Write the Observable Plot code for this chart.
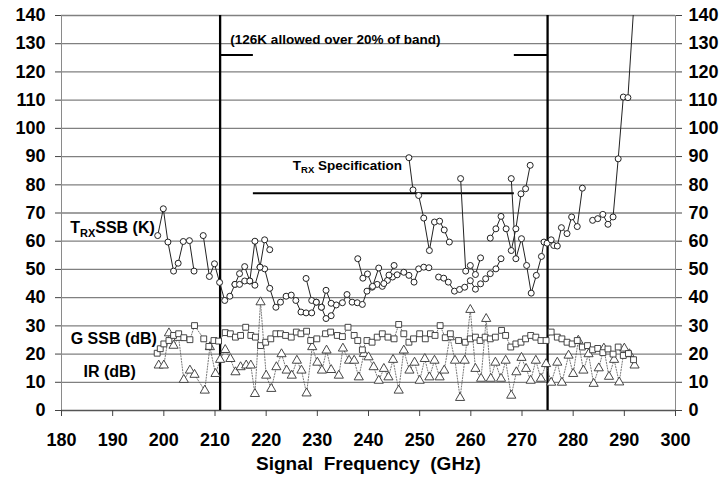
<!DOCTYPE html>
<html>
<head>
<meta charset="utf-8">
<script src="https://cdn.jsdelivr.net/npm/d3@7"></script>
<script src="https://cdn.jsdelivr.net/npm/@observablehq/plot@0.6"></script>
<style>
  html, body { margin: 0; padding: 0; background: #fff; }
  #chart svg { display: block; }
</style>
</head>
<body>
<div id="chart"></div>
<script>
// ---------------- data ----------------
const xTicks = [180, 190, 200, 210, 220, 230, 240, 250, 260, 270, 280, 290, 300];
const yTicks = [0, 10, 20, 30, 40, 50, 60, 70, 80, 90, 100, 110, 120, 130, 140];

const bandEdges = [211, 275];
const specLevel = 77;
const specRange = [217.5, 268.5];
const allowedLevel = 126;
const allowedStarts = [211, 268.5];
const allowedEnds = [217.5, 275];

// Receiver noise temperature T_RX SSB (K), one array per LO sweep: [GHz, K]
const trxSweep1 = [[198.8,62],[199.9,71.5],[200.8,59.7],[201.9,49.4],[202.8,52.2],[203.8,59.9],[205,60.2],[205.9,49.4]];
const trxSweep2 = [[207.7,62],[208.9,47.5],[209.9,52],[210.9,45.4],[211.9,39],[212.9,40.5],[213.9,44.7],[214.8,48.5],[215.8,51],[216.8,45.9],[217.8,44.4],[218.8,50.8],[219.7,50.2],[220.7,43.3],[221.9,36.6],[222.8,38.4],[223.9,40.5],[224.9,40.9],[225.8,39],[226.8,34.9],[227.8,34.6],[228.9,34.6],[229.8,38.4],[230.8,36.6],[231.7,32.6],[232.7,33.6],[233.7,37.4],[234.9,38.2],[235.8,41.1],[236.8,38.4],[237.8,38.2],[238.8,37.6],[239.7,42.3],[240.7,43.7],[241.7,44.7],[242.7,44],[243.7,46.1],[244.7,47.3],[245.6,48.1],[246.9,49],[247.9,47.9],[248.9,45.5],[249.8,50.2],[250.8,50.8],[251.8,50.6]];
const trxSweep3 = [[213.9,44.7],[214.8,44.7],[215.8,45.9],[216.8,45.9],[217.8,60],[218.8,50.8],[219.7,60.5],[220.7,57]];
const trxSweep4 = [[227.8,46.8],[228.9,39],[229.8,38.4],[230.8,36.6],[231.7,42.6],[232.7,38]];
const trxSweep5 = [[237.9,53.8],[238.9,46.9],[239.8,48.4],[240.8,44],[242,50.5],[243,45],[244,48],[245,51.4]];
const trxSweep6 = [[247.9,89.6],[248.7,78.2],[249.8,76.2],[250.8,68.2],[251.9,56.7],[252.9,66.8],[253.9,67.1],[254.8,64],[255.8,59.7]];
const trxSweep7 = [[253.7,47.3],[254.7,46.9],[255.6,45.5],[256.8,42.3],[257.8,42.9],[258.8,43.7],[259.9,46],[260.9,43],[261.9,44.9],[262.9,46.7],[263.8,48.5],[264.9,50.2],[265.9,53.8]];
const trxSweep8 = [[258,82.2],[259,49.4],[259.9,51.4],[260.9,48.2],[261.9,54.1]];
const trxSweep9 = [[263.8,61.1],[264.9,64.4],[265.9,68.8],[266.9,64.4],[267.9,56.7],[268.8,64.4],[269.8,76.8],[270.7,78.6],[271.6,86.9]];
const trxSweep10 = [[267.9,82.2],[268.8,53.8],[269.9,60.9],[270.9,51.4],[271.8,41.6],[272.8,47.9],[273.8,54.6],[274.3,59.7],[274.9,59.3],[275.7,60.5],[276.2,58.5],[276.9,58.3],[277.7,64.8],[278.8,62.7],[279.7,68.6],[280.8,65.2],[281.8,78.8]];
const trxSweep11 = [[283.8,67.4],[284.8,68],[285.8,69.5],[286.8,66],[287.8,68.6],[288.8,89.2],[289.8,111.1],[290.7,110.9],[291.8,142]];

// Gain G SSB (dB)
const gFreq = [198.7,199.3,200,201,201.9,202.9,203.9,205.1,206,207.8,208.8,209.8,210.7,212,213,214,215,216,217,217.9,218.9,219.9,220.9,221.9,222.8,223.8,224.9,225.9,226.8,227.9,228.7,229.9,231.6,232.6,233.9,234.9,236,237.2,237.9,238.8,239.7,240.7,241.7,242.7,243.8,245,245.9,246.9,247.9,248.8,250,251.1,252.1,253,254,255,256,257.6,258.9,259.9,260.9,261.8,262.8,263.8,264.8,266,266.8,267.8,268.8,269.8,270.7,271.7,272.7,273.7,274.7,275.7,276.9,277.8,278.8,279.8,280.8,281.8,282.8,283.8,284.8,285.8,286.8,287.8,288.8,289.8,290.8,291.8];
const gVal  = [20.3,21.9,23.6,24.8,26.6,27.2,25.8,25.1,30.1,25.4,22.7,24.8,24.6,27.6,27.2,26,26.6,29.5,26.6,26,23,24.2,25.4,27.2,27.2,26.6,26,27.8,27.2,28.1,24.8,25.4,27.2,27.8,26.6,26.2,29.5,26.6,24.8,21.5,24.8,24.2,26,27.2,26,25.4,30.5,27.2,24.2,25.4,27.2,25.4,27.2,26.6,30.1,25.8,27.2,24.8,24.2,25.4,26,24.8,26,25.4,26,28.4,26.6,22.5,23.6,24.2,25.4,26.6,26,24.8,24.8,27.8,26,25.4,24.2,23.6,24.8,22.5,23,21.5,22,20.5,21.8,20,22.5,19.5,20.2,18];

// Image rejection IR (dB)
const irFreq = [199,200,201,201.9,202.9,203.9,205.1,206,208,209,210.1,211,212,213,214,215,216.1,217,217.8,218.9,220,221,222,223,224,225,226,226.9,227.9,229,230,230.9,231.8,232.7,234.2,235,236.2,237.2,238.1,239.1,240,241,242,243,243.9,244.8,245.9,246.9,248,249,250,251,251.9,252.9,253.9,254.8,255.9,256.9,257.9,258.8,259.9,260.9,262,263,263.9,264.8,265.9,266.8,267.9,268.9,269.9,270.8,271.7,272.7,273.7,274.7,275.7,276.9,277.8,279.1,280,281,282,283,284,285,286,287,288,289,290,291,292];
const irVal  = [16,16,27.4,23,25.8,10.9,14.2,12.7,7.1,22.5,13,18,21.5,18.3,13.6,15.4,16,16,5.9,38.4,12.4,7.7,15.4,20,14.2,12.4,17.7,14.2,6.1,22.5,17,14.2,21.3,14.4,12.4,22,17.7,17.7,11.8,20.1,18.9,15.4,10.6,14.8,11.8,18,7.1,21.3,14.2,17,10.6,18.3,11.8,17.7,11.8,14.2,26,17.7,4.5,17.7,35.7,14.8,11.3,32.5,11.3,17,11.3,17.7,5.3,13.6,18.7,14.8,10.6,17.7,11.3,16.5,9.9,17,9.9,19.5,13,24.8,14.2,20,9.5,15,22,12,18,10,22,20,16];

// ---------------- build tables ----------------
const trxSweeps = [trxSweep1, trxSweep2, trxSweep3, trxSweep4, trxSweep5, trxSweep6, trxSweep7, trxSweep8, trxSweep9, trxSweep10, trxSweep11];
const trx = trxSweeps.flatMap((s, i) => s.map(([f, v]) => ({f, v, seg: i})));
const gData = gFreq.map((f, i) => ({f, v: gVal[i]}));
const irData = irFreq.map((f, i) => ({f, v: irVal[i]}));
const allowed = allowedStarts.map((s, i) => ({x1: s, x2: allowedEnds[i], y: allowedLevel}));

const FONT = "'Liberation Sans', Arial, Helvetica, sans-serif";

// text with a subscript, positioned through the plot's scales
function subText(xv, yv, main, sub, rest, size, subSize, shift) {
  return (index, scales) => {
    const t = d3.create("svg:text")
      .attr("x", scales.x(xv)).attr("y", scales.y(yv))
      .attr("dy", "0.35em")
      .attr("text-anchor", "start")
      .attr("font-family", FONT).attr("font-weight", "bold")
      .attr("font-size", size).attr("fill", "#000");
    t.append("tspan").text(main);
    t.append("tspan").attr("font-size", subSize).attr("dy", shift).text(sub);
    t.append("tspan").attr("dy", -shift).text(rest);
    return t.node();
  };
}

const chart = Plot.plot({
  width: 724,
  height: 480,
  marginLeft: 61,
  marginRight: 49,
  marginTop: 15,
  marginBottom: 70,
  x: {domain: [180, 300]},
  y: {domain: [0, 140]},
  style: {fontFamily: FONT, background: "#fff", color: "#000", overflow: "visible"},
  marks: [
    Plot.ruleY(yTicks.filter(d => d > 0), {stroke: "#808080", strokeWidth: 1.3}),
    Plot.ruleX([180, 300], {stroke: "#8a8a8a", strokeWidth: 1}),
    Plot.ruleY([0], {stroke: "#555", strokeWidth: 1.3}),
    Plot.ruleX(bandEdges, {y1: 0, y2: 140, stroke: "#000", strokeWidth: 2.3}),
    Plot.ruleY([specLevel], {x1: specRange[0], x2: specRange[1], stroke: "#000", strokeWidth: 2}),
    Plot.ruleY(allowed, {x1: "x1", x2: "x2", y: "y", stroke: "#000", strokeWidth: 2}),

    // IR (dB)
    Plot.line(irData, {x: "f", y: "v", stroke: "#555", strokeWidth: 0.8, strokeDasharray: "1.2,1.6"}),
    Plot.dot(irData, {x: "f", y: "v", symbol: "triangle", r: 3.4, stroke: "#333", strokeWidth: 0.9, fill: "#fff"}),

    // G SSB (dB)
    Plot.line(gData, {x: "f", y: "v", stroke: "#555", strokeWidth: 0.8, strokeDasharray: "1.2,1.6"}),
    Plot.dot(gData, {x: "f", y: "v", symbol: "square", r: 3.3, stroke: "#333", strokeWidth: 0.9, fill: "#fff"}),

    // T_RX SSB (K)
    Plot.line(trx, {x: "f", y: "v", z: "seg", stroke: "#222", strokeWidth: 1, clip: true}),
    Plot.dot(trx.filter(d => d.v <= 140), {x: "f", y: "v", r: 3, stroke: "#222", strokeWidth: 1, fill: "#fff"}),

    // axes
    Plot.axisX(xTicks, {anchor: "bottom", tickSize: 6, tickPadding: 17, fontSize: 18, fontWeight: "bold", stroke: "#444", label: null}),
    Plot.axisY(yTicks, {anchor: "left", tickSize: 6, tickPadding: 10, fontSize: 18, fontWeight: "bold", stroke: "#444", label: null}),
    Plot.axisY(yTicks, {anchor: "right", tickSize: 6, tickPadding: 7, fontSize: 18, fontWeight: "bold", stroke: "#444", label: null}),
    Plot.text(["Signal  Frequency  (GHz)"], {frameAnchor: "bottom", dy: 59, fontSize: 19, fontWeight: "bold", fill: "#000"}),

    // annotations
    Plot.text(["(126K allowed over 20% of band)"], {x: 213, y: 131.5, textAnchor: "start", fontSize: 13.5, fontWeight: "bold", fill: "#000"}),
    subText(225.3, 86.6, "T", "RX", " Specification", 13.5, 9.5, 3),
    subText(181.8, 64.6, "T", "RX", "SSB (K)", 16, 11, 4),
    Plot.text(["G SSB (dB)"], {x: 181.8, y: 25.5, textAnchor: "start", fontSize: 16, fontWeight: "bold", fill: "#000"}),
    Plot.text(["IR (dB)"], {x: 184.3, y: 13.6, textAnchor: "start", fontSize: 16, fontWeight: "bold", fill: "#000"})
  ]
});
document.getElementById("chart").appendChild(chart);
</script>
</body>
</html>
